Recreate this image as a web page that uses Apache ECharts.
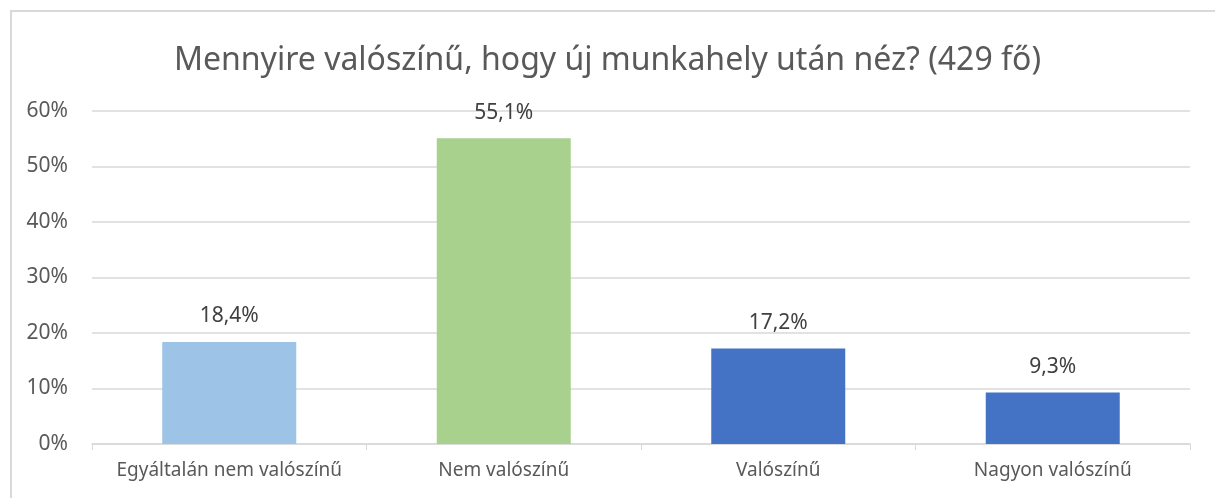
<!DOCTYPE html>
<html>
<head>
<meta charset="utf-8">
<script src="https://cdn.jsdelivr.net/npm/echarts@6/dist/echarts.min.js"></script>
<style>
  html, body { margin: 0; padding: 0; background: #fff; }
  #frame { position: absolute; left: 10px; top: 10px; width: 1220px; height: 500px; border: 2px solid #d9d9d9; box-sizing: border-box; }
  #main { position: absolute; left: 0; top: 0; width: 1215px; height: 498px; }
</style>
</head>
<body>
<div id="frame"></div>
<div id="main"></div>
<script>
var categories = ['Egyáltalán nem valószínű', 'Nem valószínű', 'Valószínű', 'Nagyon valószínű'];
var values = [18.4, 55.1, 17.2, 9.3];
var barColors = ['#9dc3e6', '#a9d18e', '#4472c4', '#4472c4'];

var myChart = echarts.init(document.getElementById('main'));

var option = {
    textStyle: { fontFamily: 'Noto Sans' },
    title: {
        text: 'Mennyire valószínű, hogy új munkahely után néz? (429 fő)',
        left: 'center',
        top: 40,
        textStyle: { color: '#595959', fontSize: 32, fontWeight: 'normal' }
    },
    grid: { left: 92, right: 25, top: 111, bottom: 54 },
    xAxis: {
        type: 'category',
        data: categories,
        axisLine: { lineStyle: { color: '#d9d9d9', width: 1.5 } },
        axisTick: { show: true, length: 6, lineStyle: { color: '#d9d9d9' } },
        axisLabel: { color: '#595959', fontSize: 19, margin: 17, interval: 0 }
    },
    yAxis: {
        type: 'value',
        min: 0,
        max: 60,
        interval: 10,
        axisLine: { show: false },
        axisTick: { show: false },
        axisLabel: { color: '#595959', fontSize: 21, margin: 24, formatter: '{value}%' },
        splitLine: { lineStyle: { color: '#d9d9d9', width: 1.5 } }
    },
    series: [{
        type: 'bar',
        barWidth: 134,
        data: values.map(function (v, i) {
            return { value: v, itemStyle: { color: barColors[i] } };
        }),
        label: {
            show: true,
            position: 'top',
            distance: 15,
            color: '#404040',
            fontSize: 21,
            formatter: function (p) { return p.value.toFixed(1).replace('.', ',') + '%'; }
        }
    }]
};

myChart.setOption(option);
</script>
</body>
</html>
